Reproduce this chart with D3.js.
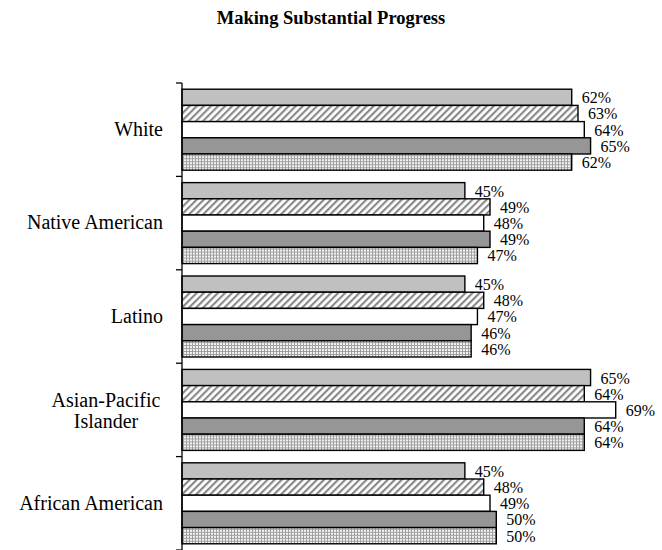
<!DOCTYPE html>
<html>
<head>
<meta charset="utf-8">
<script src="https://cdn.jsdelivr.net/npm/d3@7"></script>
<style>
  body { margin: 0; background: #fff; }
  svg text { font-family: "Liberation Serif", "Times New Roman", Times, "DejaVu Serif", serif; }
</style>
</head>
<body>
<svg id="chart" width="662" height="550"></svg>
<script>
const title = "Making Substantial Progress";
const categories = ["White", "Native American", "Latino", "Asian-Pacific Islander", "African American"];
const categoryLines = [["White"], ["Native American"], ["Latino"], ["Asian-Pacific", "Islander"], ["African American"]];
const seriesNames = ["s1", "s2", "s3", "s4", "s5"];
const s1 = [62, 45, 45, 65, 45];
const s2 = [63, 49, 48, 64, 48];
const s3 = [64, 48, 47, 69, 49];
const s4 = [65, 49, 46, 64, 50];
const s5 = [62, 47, 46, 64, 50];
const seriesValues = [s1, s2, s3, s4, s5];

const FONT = "'Liberation Serif', 'Times New Roman', Times, serif";
const svg = d3.select("#chart");
const defs = svg.append("defs");

const hatch = defs.append("pattern").attr("id", "hatch").attr("patternUnits", "userSpaceOnUse")
  .attr("width", 5).attr("height", 5).attr("patternTransform", "rotate(45)");
hatch.append("rect").attr("width", 5).attr("height", 5).attr("fill", "#fff");
hatch.append("rect").attr("width", 2.2).attr("height", 5).attr("fill", "#8a8a8a");

const dots = defs.append("pattern").attr("id", "dots").attr("patternUnits", "userSpaceOnUse")
  .attr("width", 3).attr("height", 3);
dots.append("rect").attr("width", 3).attr("height", 3).attr("fill", "#f2f2f2");
dots.append("rect").attr("width", 3).attr("height", 1).attr("fill", "#a0a0a0");
dots.append("rect").attr("width", 1).attr("height", 3).attr("fill", "#a0a0a0");

const fills = ["#c0c0c0", "url(#hatch)", "#ffffff", "#969696", "url(#dots)"];

const x = d3.scaleLinear().domain([0, 70]).range([182, 622]);
const y0 = d3.scaleBand().domain(categories).range([83, 550]).paddingInner(0.133).paddingOuter(0.0665);
const yBoundary = d3.scaleBand().domain(categories).range([83, 550]);
const y1 = d3.scaleBand().domain(seriesNames).range([0, y0.bandwidth()]);

svg.append("text").attr("x", 331).attr("y", 24).attr("text-anchor", "middle")
  .attr("font-family", FONT).attr("font-weight", "bold").attr("font-size", 18.5).text(title);

const groups = svg.selectAll("g.cat").data(categories).join("g").attr("class", "cat")
  .attr("transform", d => `translate(0,${y0(d)})`);

groups.each(function(cat, ci) {
  const g = d3.select(this);
  seriesNames.forEach((s, si) => {
    const v = seriesValues[si][ci];
    g.append("rect").attr("x", x(0)).attr("y", y1(s))
      .attr("width", x(v) - x(0)).attr("height", y1.bandwidth())
      .attr("fill", fills[si]).attr("stroke", "#000").attr("stroke-width", 1.4);
    g.append("text").attr("x", x(v) + 10).attr("y", y1(s) + y1.bandwidth() / 2 + 6)
      .attr("font-family", FONT).attr("font-size", 16).attr("fill", "#000").text(v + "%");
  });
});

svg.append("line").attr("x1", x(0)).attr("x2", x(0)).attr("y1", 83).attr("y2", 550)
  .attr("stroke", "#000").attr("stroke-width", 1.3);
const bounds = categories.map(c => yBoundary(c)).concat([550]);
svg.selectAll("line.tick").data(bounds).join("line").attr("class", "tick")
  .attr("x1", x(0) - 6).attr("x2", x(0)).attr("y1", d => d).attr("y2", d => d)
  .attr("stroke", "#000").attr("stroke-width", 1.3);

categories.forEach((c, i) => {
  const lines = categoryLines[i];
  const cy = yBoundary(c) + yBoundary.bandwidth() / 2;
  const t = svg.append("text").attr("font-family", FONT).attr("font-size", 20).attr("fill", "#000");
  lines.forEach((ln, li) => {
    t.append("tspan")
      .attr("x", lines.length > 1 ? 106 : 163)
      .attr("y", lines.length > 1 ? cy - 3 + li * 21 : cy + 6.3)
      .attr("text-anchor", lines.length > 1 ? "middle" : "end")
      .text(ln);
  });
});
</script>
</body>
</html>
